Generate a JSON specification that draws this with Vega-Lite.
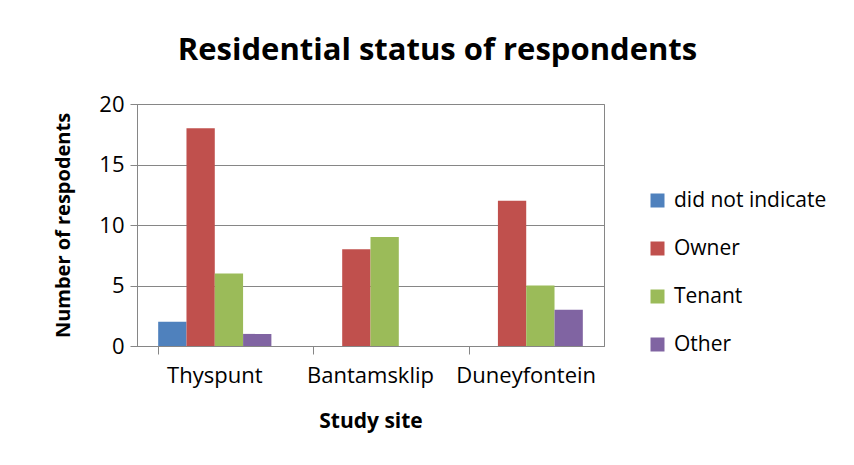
{
  "$schema": "https://vega.github.io/schema/vega-lite/v6.json",
  "width": 467,
  "height": 242,
  "autosize": "none",
  "padding": {"left": 137, "top": 104, "right": 250, "bottom": 119},
  "background": "white",
  "title": {
    "text": "Residential status of respondents",
    "font": "Open Sans",
    "fontSize": 31,
    "fontWeight": "bold",
    "color": "#000000",
    "anchor": "middle",
    "dx": 67,
    "offset": 26
  },
  "data": {
    "values": [
      {"site": "Thyspunt", "status": "did not indicate", "count": 2},
      {"site": "Thyspunt", "status": "Owner", "count": 18},
      {"site": "Thyspunt", "status": "Tenant", "count": 6},
      {"site": "Thyspunt", "status": "Other", "count": 1},
      {"site": "Bantamsklip", "status": "Owner", "count": 8},
      {"site": "Bantamsklip", "status": "Tenant", "count": 9},
      {"site": "Duneyfontein", "status": "Owner", "count": 12},
      {"site": "Duneyfontein", "status": "Tenant", "count": 5},
      {"site": "Duneyfontein", "status": "Other", "count": 3}
    ]
  },
  "mark": {"type": "bar"},
  "encoding": {
    "x": {
      "field": "site",
      "type": "nominal",
      "sort": ["Thyspunt", "Bantamsklip", "Duneyfontein"],
      "scale": {"paddingInner": 0.273, "paddingOuter": 0.136},
      "axis": {
        "title": "Study site",
        "titleFont": "Open Sans",
        "titleFontSize": 21,
        "titleFontWeight": "bold",
        "titleColor": "#000000",
        "titlePadding": 24,
        "labelFont": "Open Sans",
        "labelFontSize": 22,
        "labelColor": "#000000",
        "labelAngle": 0,
        "labelPadding": 11,
        "tickSize": 8,
        "tickColor": "#868686",
        "domainColor": "#868686",
        "bandPosition": 0,
        "grid": false
      }
    },
    "xOffset": {
      "field": "status",
      "type": "nominal",
      "sort": ["did not indicate", "Owner", "Tenant", "Other"]
    },
    "y": {
      "field": "count",
      "type": "quantitative",
      "scale": {"domain": [0, 20]},
      "axis": {
        "title": "Number of respodents",
        "titleFont": "Open Sans",
        "titleFontSize": 20,
        "titleFontWeight": "bold",
        "titleColor": "#000000",
        "titlePadding": 25,
        "values": [0, 5, 10, 15, 20],
        "labelFont": "Open Sans",
        "labelFontSize": 22,
        "labelColor": "#000000",
        "labelPadding": 6,
        "tickSize": 7,
        "tickColor": "#868686",
        "domainColor": "#868686",
        "gridColor": "#868686",
        "grid": true
      }
    },
    "color": {
      "field": "status",
      "type": "nominal",
      "sort": ["did not indicate", "Owner", "Tenant", "Other"],
      "scale": {
        "domain": ["did not indicate", "Owner", "Tenant", "Other"],
        "range": ["#4F81BD", "#C0504D", "#9BBB59", "#8064A2"]
      },
      "legend": {
        "title": null,
        "orient": "none",
        "legendX": 510,
        "legendY": 86,
        "symbolType": "square",
        "symbolSize": 196,
        "symbolStrokeWidth": 0,
        "labelFont": "Open Sans",
        "labelFontSize": 21,
        "labelColor": "#000000",
        "labelOffset": 6,
        "rowPadding": 26
      }
    }
  },
  "config": {
    "view": {"stroke": "#868686", "strokeWidth": 1}
  }
}
